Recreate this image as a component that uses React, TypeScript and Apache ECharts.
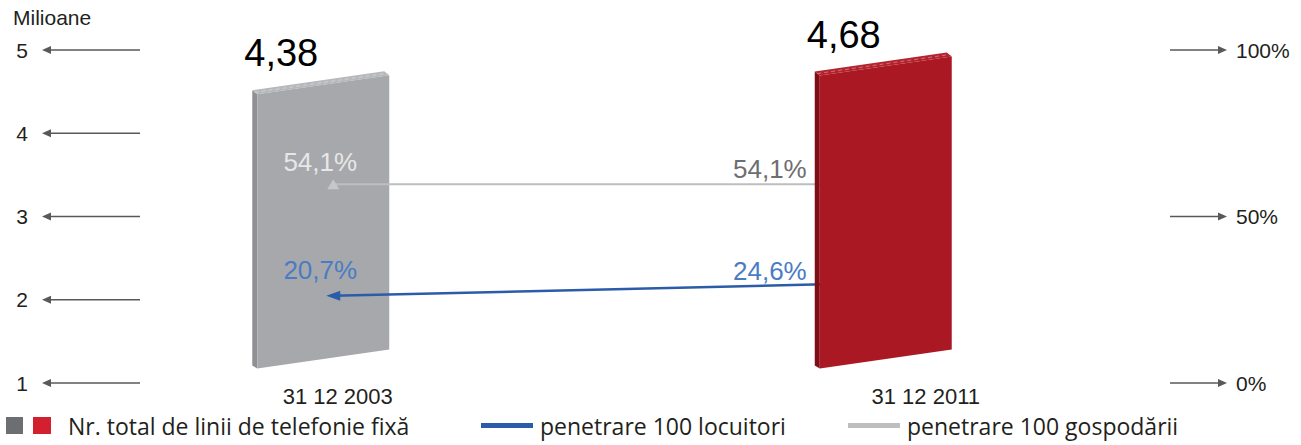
import React, { useEffect, useRef } from "react";
import * as echarts from "echarts";

// ---- data ----
const categories = ["31 12 2003", "31 12 2011"];
const fixedLinesMillions = [4.38, 4.68];
const penetrationPer100Inhabitants = [20.7, 24.6];
const penetrationPer100Households = [54.1, 54.1];
const leftTicks = [1, 2, 3, 4, 5];
const rightTicks = [0, 50, 100];

const BAR_NAME = "Nr. total de linii de telefonie fixă";
const BLUE_NAME = "penetrare 100 locuitori";
const GRAY_NAME = "penetrare 100 gospodării";

const ARIAL = "'Liberation Sans', Arial, sans-serif";
const LEGEND_FONT = "'Open Sans', 'Noto Sans', sans-serif";

const fmtPct = (v: number) => v.toFixed(1).replace(".", ",") + "%";
const fmtNum = (v: number) => v.toFixed(2).replace(".", ",");

const legendIconSvg =
  "<svg xmlns='http://www.w3.org/2000/svg' width='45' height='17'>" +
  "<rect x='0' y='0' width='17' height='17' fill='#6d6e72'/>" +
  "<rect x='27' y='0' width='18' height='17' fill='#d2202f'/></svg>";
const legendIcon = "image://data:image/svg+xml;charset=utf-8," + encodeURIComponent(legendIconSvg);

function makeBarRenderer(colors: { front: string; side: string; top: string }) {
  return (params: any, api: any) => {
    const cat = api.value(0);
    const v = api.value(1);
    const top = api.coord([cat, v]);
    const base = api.coord([cat, 0]);
    const cx = top[0];
    const half = 66;
    const s = 9.5;
    const xl = cx - half;
    const xr = cx + half;
    const tl = top[1] + s;
    const tr = top[1] - s;
    const bl = base[1] + s;
    const br = base[1] - s;
    const dx = 5;
    const dy = 4;
    return {
      type: "group",
      children: [
        {
          type: "polygon",
          shape: { points: [[xl - dx, tl - dy], [xl, tl], [xl, bl], [xl - dx, bl - 3]] },
          style: { fill: colors.side },
        },
        {
          type: "polygon",
          shape: { points: [[xl - dx, tl - dy], [xr - dx, tr - dy], [xr, tr], [xl, tl]] },
          style: { fill: colors.top },
        },
        {
          type: "polygon",
          shape: { points: [[xl, tl], [xr, tr], [xr, br], [xl, bl]] },
          style: { fill: colors.front },
        },
        {
          type: "line",
          shape: { x1: xl - dx / 2, y1: tl - dy / 2, x2: xr - dx / 2, y2: tr - dy / 2 },
          style: { stroke: "rgba(255,255,255,0.45)", lineWidth: 0.8, lineDash: [4, 3] },
        },
        {
          type: "text",
          style: {
            text: fmtNum(v),
            x: xl - 13,
            y: tl - 41,
            verticalAlign: "middle",
            align: "left",
            fill: "#000000",
            font: "38px " + ARIAL,
          },
        },
      ],
    };
  };
}

function leftArrow(params: any, api: any) {
  const p = api.coord([api.value(0), api.value(1)]);
  const x = p[0];
  const y = p[1];
  return {
    type: "group",
    children: [
      { type: "line", shape: { x1: x + 8, y1: y, x2: x + 98, y2: y }, style: { stroke: "#59595c", lineWidth: 1.3 } },
      { type: "polygon", shape: { points: [[x, y], [x + 9, y - 4], [x + 9, y + 4]] }, style: { fill: "#59595c" } },
    ],
  };
}

function rightArrow(params: any, api: any) {
  const p = api.coord([api.value(0), api.value(1)]);
  const x = p[0];
  const y = p[1];
  return {
    type: "group",
    children: [
      { type: "line", shape: { x1: x - 57, y1: y, x2: x - 8, y2: y }, style: { stroke: "#59595c", lineWidth: 1.3 } },
      { type: "polygon", shape: { points: [[x, y], [x - 9, y - 4], [x - 9, y + 4]] }, style: { fill: "#59595c" } },
    ],
  };
}

export default function App() {
  const ref = useRef<HTMLDivElement>(null);

  useEffect(() => {
    if (!ref.current) return;
    const chart = echarts.init(ref.current, null, { renderer: "svg" });

    const pctLabelBase = { show: true, fontSize: 26, fontFamily: ARIAL, formatter: (p: any) => fmtPct(p.value) };
    const legendText = { fontSize: 23, fontFamily: LEGEND_FONT, color: "#231f20" };

    const option: any = {
      animation: false,
      backgroundColor: "#ffffff",
      title: {
        text: "Milioane",
        left: 13,
        top: 7,
        padding: 0,
        textStyle: { fontSize: 21, fontWeight: "normal", color: "#231f20", fontFamily: ARIAL },
      },
      legend: [
        {
          left: 6,
          top: 414,
          padding: 0,
          selectedMode: false,
          itemWidth: 45,
          itemHeight: 17,
          data: [{ name: BAR_NAME, icon: legendIcon }],
          textStyle: { ...legendText, padding: [0, 0, 0, 12] },
        },
        {
          left: 481,
          top: 414,
          padding: 0,
          selectedMode: false,
          itemWidth: 52,
          itemHeight: 5,
          data: [{ name: BLUE_NAME, icon: "rect", itemStyle: { color: "#2a5caa" } }],
          textStyle: { ...legendText, padding: [0, 0, 0, 2] },
        },
        {
          left: 848,
          top: 414,
          padding: 0,
          selectedMode: false,
          itemWidth: 52,
          itemHeight: 5,
          data: [{ name: GRAY_NAME, icon: "rect", itemStyle: { color: "#bcbec0" } }],
          textStyle: { ...legendText, padding: [0, 0, 0, 2] },
        },
      ],
      grid: [
        { left: 42, right: 74, top: 50, bottom: 62 },
        { left: 42, width: 1125, top: 46, height: 313 },
        { left: 57, width: 1105, top: 31, height: 334 },
      ],
      xAxis: [
        { type: "value", gridIndex: 0, min: 0, max: 1, show: false },
        {
          type: "category",
          gridIndex: 1,
          data: categories,
          axisLine: { show: false },
          axisTick: { show: false },
          axisLabel: {
            margin: 26,
            formatter: (val: string, idx: number) => `{c${idx}|${val}}`,
            rich: {
              c0: { fontSize: 22, fontFamily: ARIAL, color: "#231f20", padding: [0, 0, 0, 29] },
              c1: { fontSize: 22, fontFamily: ARIAL, color: "#231f20", padding: [0, 0, 0, 80] },
            },
          },
        },
        { type: "category", gridIndex: 2, data: categories, show: false },
      ],
      yAxis: [
        {
          type: "value",
          gridIndex: 0,
          position: "left",
          min: 1,
          max: 5,
          interval: 1,
          axisLine: { show: false },
          axisTick: { show: false },
          splitLine: { show: false },
          axisLabel: { margin: 14, fontSize: 21, fontFamily: ARIAL, color: "#231f20" },
        },
        {
          type: "value",
          gridIndex: 0,
          position: "right",
          min: 0,
          max: 100,
          interval: 50,
          axisLine: { show: false },
          axisTick: { show: false },
          splitLine: { show: false },
          axisLabel: { margin: 9, fontSize: 21, fontFamily: ARIAL, color: "#231f20", formatter: "{value}%" },
        },
        { type: "value", gridIndex: 1, min: 0, max: 5, show: false },
        { type: "value", gridIndex: 2, min: 0, max: 100, show: false },
      ],
      series: [
        {
          type: "custom",
          name: "axis-left-arrows",
          xAxisIndex: 0,
          yAxisIndex: 0,
          silent: true,
          renderItem: leftArrow,
          data: leftTicks.map((t) => [0, t]),
        },
        {
          type: "custom",
          name: "axis-right-arrows",
          xAxisIndex: 0,
          yAxisIndex: 1,
          silent: true,
          renderItem: rightArrow,
          data: rightTicks.map((t) => [1, t]),
        },
        {
          type: "custom",
          name: BAR_NAME,
          xAxisIndex: 1,
          yAxisIndex: 2,
          z: 1,
          silent: true,
          itemStyle: { color: "#6d6e72" },
          renderItem: makeBarRenderer({ front: "#a7a8ab", side: "#8f9093", top: "#b7b8bb" }),
          data: [[0, fixedLinesMillions[0]]],
        },
        {
          type: "line",
          name: BLUE_NAME,
          xAxisIndex: 2,
          yAxisIndex: 3,
          z: 2,
          silent: true,
          color: "#2a5caa",
          lineStyle: { color: "#2b5ca9", width: 2.5 },
          data: penetrationPer100Inhabitants.map((v, i) =>
            i === 0
              ? {
                  value: v,
                  symbol: "triangle",
                  symbolSize: [10, 14],
                  symbolRotate: 90,
                  itemStyle: { color: "#2b5ca9" },
                  label: { ...pctLabelBase, position: "top", distance: 8, offset: [-13, 0], color: "#4a7cc4" },
                }
              : {
                  value: v,
                  symbol: "circle",
                  symbolSize: 1,
                  itemStyle: { color: "#2b5ca9" },
                  label: { ...pctLabelBase, position: "left", distance: 78.5, offset: [0, -12], color: "#4a7cc4" },
                }
          ),
        },
        {
          type: "line",
          name: GRAY_NAME,
          xAxisIndex: 2,
          yAxisIndex: 3,
          z: 2,
          silent: true,
          color: "#bcbec0",
          lineStyle: { color: "#bcbec0", width: 2 },
          data: penetrationPer100Households.map((v, i) =>
            i === 0
              ? {
                  value: v,
                  symbol: "triangle",
                  symbolSize: [12, 10],
                  itemStyle: { color: "#c6c7c9" },
                  label: { ...pctLabelBase, position: "top", distance: 4, offset: [-13, 0], color: "#e6e7e8" },
                }
              : {
                  value: v,
                  symbol: "circle",
                  symbolSize: 1,
                  itemStyle: { color: "#bcbec0" },
                  label: { ...pctLabelBase, position: "left", distance: 78.5, offset: [0, -15], color: "#6d6e71" },
                }
          ),
        },
        {
          type: "custom",
          name: BAR_NAME,
          xAxisIndex: 1,
          yAxisIndex: 2,
          z: 3,
          silent: true,
          itemStyle: { color: "#d2202f" },
          renderItem: makeBarRenderer({ front: "#aa1823", side: "#7e0d15", top: "#b4222d" }),
          data: [[1, fixedLinesMillions[1]]],
        },
      ],
    };

    chart.setOption(option);
    return () => chart.dispose();
  }, []);

  return <div ref={ref} style={{ position: "absolute", left: 0, top: 0, width: 1301, height: 445 }} />;
}
